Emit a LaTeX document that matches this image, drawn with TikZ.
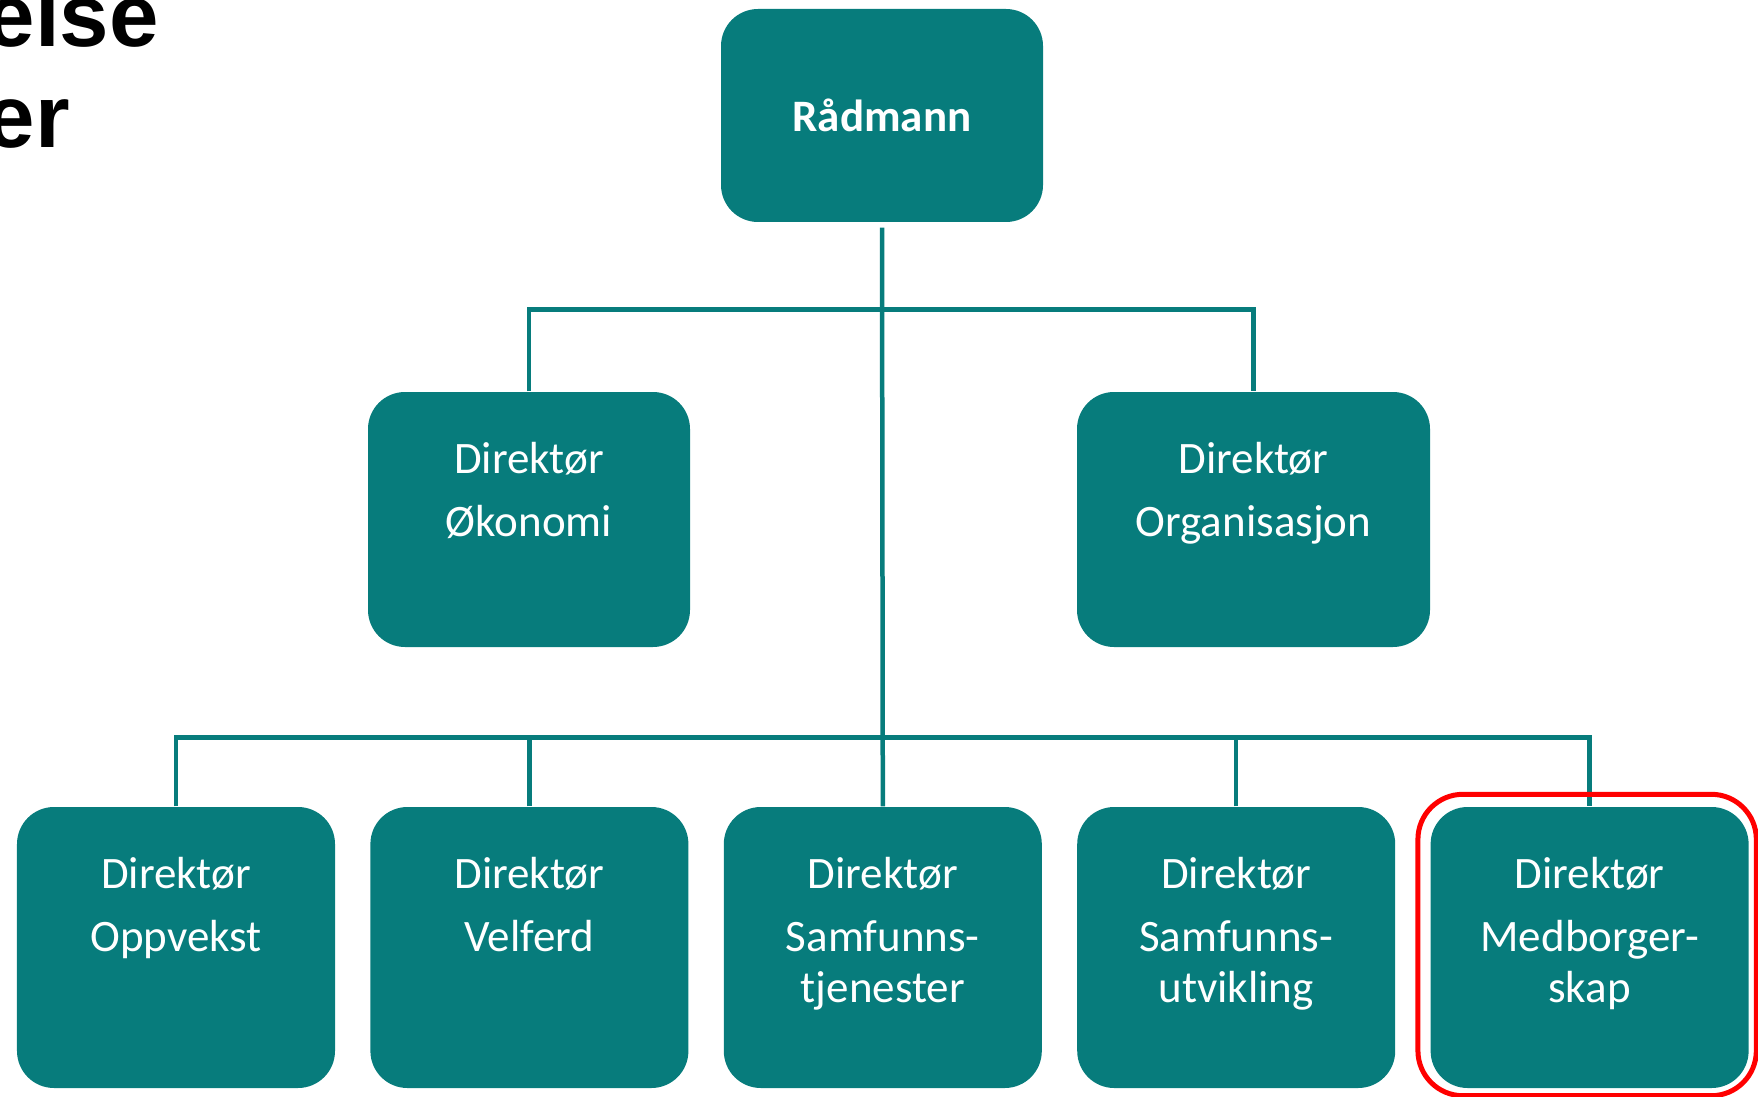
\documentclass[tikz,border=0pt]{standalone}
\usepackage{fontspec}
\setmainfont{Carlito}
\newfontfamily\hfont{Liberation Sans}
\usetikzlibrary{positioning}
\definecolor{kteal}{RGB}{7,124,124}
\tikzset{%
    boks/.style={rectangle,rounded corners=3.7mm,fill=kteal,text=white,
        minimum width=3.18cm,minimum height=2.81cm,inner sep=0pt},
    tekst/.style={text=white,align=center,inner sep=0pt,anchor=north,yshift=-0.5cm,
        font=\fontsize{12.8pt}{18pt}\selectfont},
    linje/.style={draw=kteal,line width=0.045cm},
    ramme/.style={draw=red,line width=0.05cm,rounded corners=4.5mm},
    overskrift/.style={font=\hfont\bfseries\fontsize{25.3pt}{30pt}\selectfont,
        inner sep=0pt,anchor=base west}
}

\begin{document}
\begin{tikzpicture}[node distance=0.34cm]
            \useasboundingbox (0,0) rectangle (17.58,-10.97);
            \clip (0,0) rectangle (17.58,-10.97);
            \node [overskrift] (hode1) at (-0.15,-0.47) {else};
            \node [overskrift] (hode2) at (-0.15,-1.48) {er};
            %%%%%
            \node [boks,minimum width=3.22cm,minimum height=2.13cm,
            font=\bfseries\fontsize{12.8pt}{18pt}\selectfont] (rad) at (8.82,-1.155) {Rådmann};
            \node [boks,minimum width=3.22cm,minimum height=2.55cm,
            label={[tekst]north:Direktør\\Økonomi}] (oko) at (5.29,-5.195) {};
            \node [boks,minimum width=3.53cm,minimum height=2.55cm,
            label={[tekst]north:Direktør\\Organisasjon}] (org) at (12.535,-5.195) {};
            %%%%%
            \node [boks,label={[tekst]north:Direktør\\Oppvekst}] (opp) at (1.76,-9.475) {};
            \node [boks,right= of opp,label={[tekst]north:Direktør\\Velferd}] (vel) {};
            \node [boks,right= of vel,label={[tekst]north:Direktør\\Samfunns-\\[-3.5pt]tjenester}] (tje) {};
            \node [boks,right= of tje,label={[tekst]north:Direktør\\Samfunns-\\[-3.5pt]utvikling}] (utv) {};
            \node [boks,right= of utv,label={[tekst]north:Direktør\\Medborger-\\[-3.5pt]skap}] (med) {};
            %%%%%
            \draw[linje] ([yshift=-0.05cm]rad.south) -- (tje.north);
            \draw[linje] (oko.north) -- ++(0,0.82) -| (org.north);
            \draw[linje] (opp.north) -- ++(0,0.69) -| (med.north);
            \foreach \n in {vel,utv}
                \draw[linje] (\n.north) -- ++(0,0.69);
            \draw[ramme] ([shift={(-0.12,0.12)}]med.north west) rectangle
            ([shift={(0.07,-0.07)}]med.south east);
\end{tikzpicture}
\end{document}
